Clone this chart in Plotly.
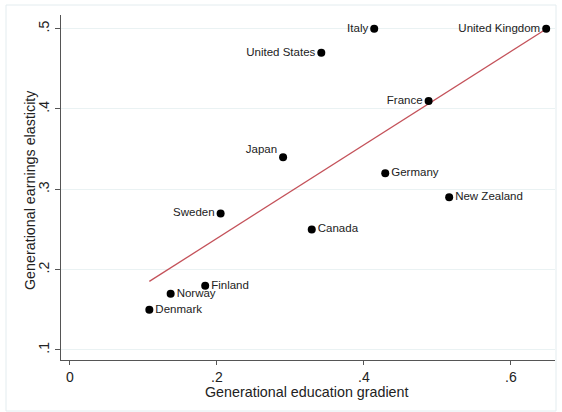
import numpy as np
import plotly.graph_objects as go

countries = ["Italy", "United Kingdom", "United States", "France", "Japan", "Germany",
             "New Zealand", "Sweden", "Canada", "Finland", "Norway", "Denmark"]
edu_gradient = [0.414, 0.648, 0.342, 0.488, 0.290, 0.429, 0.516, 0.205, 0.329, 0.184, 0.137, 0.108]
earn_elast = [0.50, 0.50, 0.47, 0.41, 0.34, 0.32, 0.29, 0.27, 0.25, 0.18, 0.17, 0.15]
label_pos = ["middle left", "middle left", "middle left", "middle left", "middle left", "middle right",
             "middle right", "middle left", "middle right", "middle right", "middle right", "middle right"]
# labels raised half a line (Japan sits at "10 o'clock" in the original)
raised = {"Japan"}

x_tickvals = [0, 0.2, 0.4, 0.6]
x_ticktext = ["0", ".2", ".4", ".6"]
y_tickvals = [0.1, 0.2, 0.3, 0.4, 0.5]
y_ticktext = [".1", ".2", ".3", ".4", ".5"]

# linear fit
b, a = np.polyfit(edu_gradient, earn_elast, 1)
fx = np.array([min(edu_gradient), max(edu_gradient)])
fy = a + b * fx

labels = [c + "<br> " if c in raised else c for c in countries]

FONT = "Liberation Sans, Arial, sans-serif"
W, H = 562, 412
L, R, T, B = 61, 7, 15, 52
pw, ph = W - L - R, H - T - B

fig = go.Figure()
fig.add_trace(go.Scatter(x=fx, y=fy, mode="lines", line=dict(color="#c4525a", width=1.3),
                         showlegend=False, hoverinfo="skip"))
fig.add_trace(go.Scatter(
    x=edu_gradient, y=earn_elast, mode="markers+text", text=labels,
    textposition=label_pos,
    marker=dict(color="black", size=8),
    textfont=dict(family=FONT, size=11.5, color="#222"),
    showlegend=False, cliponaxis=False))

fig.update_layout(
    width=W, height=H,
    margin=dict(l=L, r=R, t=T, b=B),
    paper_bgcolor="white", plot_bgcolor="white",
    font=dict(family=FONT, color="#222"),
    xaxis=dict(range=[-0.0122, 0.66], tickvals=x_tickvals, ticktext=x_ticktext,
               showgrid=False, zeroline=False, showline=True, linecolor="#555", linewidth=1.2,
               ticks="outside", ticklen=4, tickcolor="#555", tickfont=dict(size=14),
               automargin=False),
    yaxis=dict(range=[0.0875, 0.517], tickvals=y_tickvals, ticktext=y_ticktext,
               showgrid=True, gridcolor="#eaf2f3", gridwidth=1, zeroline=False,
               showline=True, linecolor="#555", linewidth=1.2,
               ticks="outside", ticklen=5, tickcolor="#555", tickfont=dict(size=14), tickangle=-90,
               automargin=False),
    annotations=[
        dict(text="Generational education gradient", xref="paper", yref="paper",
             x=(307 - L) / pw, y=-(392 - (H - B)) / ph, xanchor="center", yanchor="middle",
             showarrow=False, font=dict(family=FONT, size=14.3, color="#222")),
        dict(text="Generational earnings elasticity", xref="paper", yref="paper",
             x=(30 - L) / pw, y=((H - B) - 190) / ph, xanchor="center", yanchor="middle",
             textangle=-90, showarrow=False, font=dict(family=FONT, size=14.3, color="#222")),
    ],
    shapes=[dict(type="rect", xref="paper", yref="paper",
                 x0=(6 - L) / pw, x1=(556 - L) / pw, y0=-(411 - (H - B)) / ph, y1=((H - B) - 5) / ph,
                 line=dict(color="#e3ecef", width=1), fillcolor="rgba(0,0,0,0)", layer="below")]
)

fig.write_html("out.html", config={"displayModeBar": False},
               post_script="document.body.style.margin='0';document.body.style.padding='0';")
